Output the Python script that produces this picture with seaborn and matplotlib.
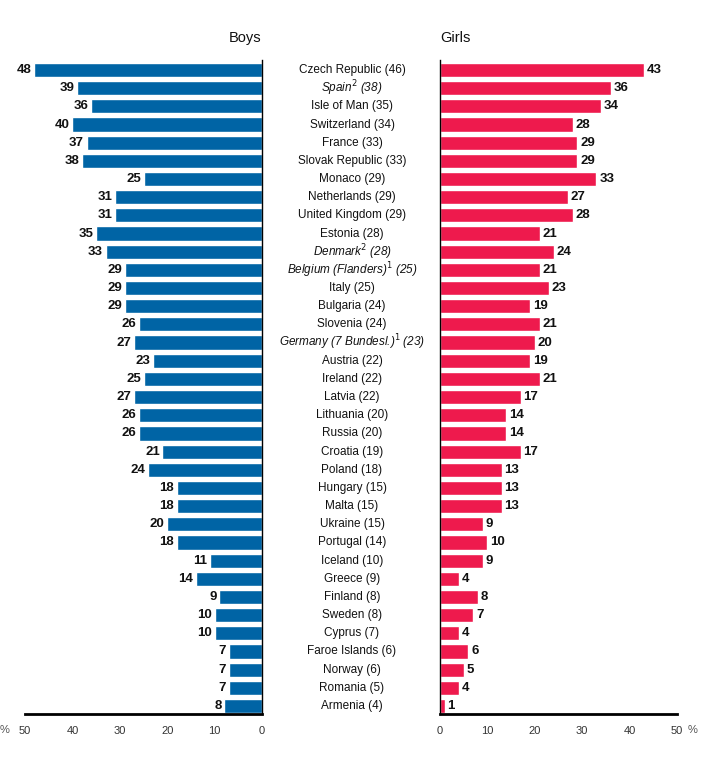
import matplotlib
matplotlib.use("Agg")
import matplotlib.pyplot as plt
import matplotlib.transforms as mtrans
import seaborn as sns
import pandas as pd
from matplotlib import font_manager

countries = ["Czech Republic (46)", "Spain$^2$ (38)", "Isle of Man (35)", "Switzerland (34)",
             "France (33)", "Slovak Republic (33)", "Monaco (29)", "Netherlands (29)",
             "United Kingdom (29)", "Estonia (28)", "Denmark$^2$ (28)",
             "Belgium (Flanders)$^1$ (25)", "Italy (25)", "Bulgaria (24)", "Slovenia (24)",
             "Germany (7 Bundesl.)$^1$ (23)", "Austria (22)", "Ireland (22)", "Latvia (22)",
             "Lithuania (20)", "Russia (20)", "Croatia (19)", "Poland (18)", "Hungary (15)",
             "Malta (15)", "Ukraine (15)", "Portugal (14)", "Iceland (10)", "Greece (9)",
             "Finland (8)", "Sweden (8)", "Cyprus (7)", "Faroe Islands (6)", "Norway (6)",
             "Romania (5)", "Armenia (4)"]
italic_rows = [1, 10, 11, 15]
boys = [48, 39, 36, 40, 37, 38, 25, 31, 31, 35, 33, 29, 29, 29, 26, 27, 23, 25, 27, 26,
        26, 21, 24, 18, 18, 20, 18, 11, 14, 9, 10, 10, 7, 7, 7, 8]
girls = [43, 36, 34, 28, 29, 29, 33, 27, 28, 21, 24, 21, 23, 19, 21, 20, 19, 21, 17, 14,
         14, 17, 13, 13, 13, 9, 10, 9, 4, 8, 7, 4, 6, 5, 4, 1]
ticks = [0, 10, 20, 30, 40, 50]

sns.set_theme(style="white")
avail = {f.name for f in font_manager.fontManager.ttflist}
fam = ["Liberation Sans Narrow", "DejaVu Sans"] if "Liberation Sans Narrow" in avail else ["Liberation Sans", "DejaVu Sans"]
plt.rcParams["font.family"] = fam

df = pd.DataFrame({"country": countries, "boys": boys, "girls": girls})

BLUE = "#0064A5"
RED = "#EE1A4D"

fig = plt.figure(figsize=(7.06, 7.66), dpi=100)
W, H = 706, 766
top_px, bot_px = 60, 714
axL = fig.add_axes([25 / W, 1 - bot_px / H, (262 - 25) / W, (bot_px - top_px) / H])
axR = fig.add_axes([440 / W, 1 - bot_px / H, (677 - 440) / W, (bot_px - top_px) / H])

sns.barplot(data=df, x="boys", y="country", order=countries, color=BLUE, width=0.78,
            saturation=1, ax=axL, orient="h")
sns.barplot(data=df, x="girls", y="country", order=countries, color=RED, width=0.78,
            saturation=1, ax=axR, orient="h")

n = len(countries)
for ax in (axL, axR):
    ax.set_ylim(n - 0.56, -0.55)
    ax.set_ylabel("")
    ax.set_xlabel("")
    ax.set_yticks([])
    ax.set_xticks(ticks)
    ax.set_xticklabels([str(t) for t in ticks], fontsize=8, color="#333333")
    ax.tick_params(axis="x", length=0, pad=9)
    for s in ax.spines.values():
        s.set_visible(False)
    ax.spines["bottom"].set_visible(True)
    ax.spines["bottom"].set_linewidth(2)
    ax.spines["bottom"].set_color("black")
    ax.patch.set_alpha(0)

axL.set_xlim(50, 0)
axR.set_xlim(0, 50)
axL.spines["right"].set_visible(True)
axL.spines["right"].set_color("black")
axL.spines["right"].set_linewidth(1)
axR.spines["left"].set_visible(True)
axR.spines["left"].set_color("black")
axR.spines["left"].set_linewidth(1)

for i, v in enumerate(boys):
    axL.text(v + 0.55, i, str(v), ha="right", va="center", fontsize=9.5, fontweight="bold",
             color="#111111")
for i, v in enumerate(girls):
    axR.text(v + 0.6, i, str(v), ha="left", va="center", fontsize=9.5, fontweight="bold",
             color="#111111")

tr = mtrans.blended_transform_factory(fig.transFigure, axL.transData)
for i, c in enumerate(countries):
    axL.text(352 / W, i, c, transform=tr, ha="center", va="center", fontsize=8.5,
             color="#111111", style="italic" if i in italic_rows else "normal",
             clip_on=False)

fig.text(245 / W, 1 - 38 / H, "Boys", ha="center", va="center", fontsize=10.5, color="#111111")
fig.text(455 / W, 1 - 38 / H, "Girls", ha="center", va="center", fontsize=10.5, color="#111111")
fig.text(5 / W, 1 - 730 / H, "%", ha="center", va="center", fontsize=8, color="#555555")
fig.text(693 / W, 1 - 730 / H, "%", ha="center", va="center", fontsize=8, color="#555555")

fig.savefig("out.png", dpi=100)
